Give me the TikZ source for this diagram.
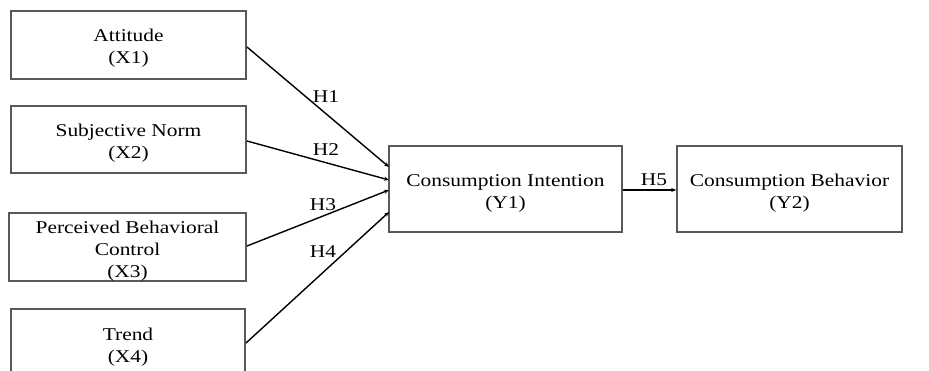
\documentclass[tikz,border=0pt]{standalone}
\usepackage{fontspec}
\setmainfont{Liberation Serif}[FakeStretch=1.19]
\usetikzlibrary{arrows.meta}
\begin{document}
\begin{tikzpicture}[x=1pt,y=-1pt,
  box/.style={draw=black!65,line width=1.5pt,inner sep=0pt},
  txt/.style={font=\fontsize{18}{22}\selectfont,inner sep=0pt,align=center},
  lab/.style={font=\fontsize{18}{22}\selectfont,inner sep=0pt},
  arr/.style={line width=1.4pt,-{Stealth[length=5pt,width=4pt]}}]
\useasboundingbox (0,0) rectangle (929,371);
\clip (0,0) rectangle (929,371);
\node[box,minimum width=235pt,minimum height=68pt] (x1) at (128.5,45) {};
\node[txt] (x1t) at (128.5,48) {Attitude\\(X1)};
\node[box,minimum width=235pt,minimum height=67pt] (x2) at (128.5,139.5) {};
\node[txt] (x2t) at (128.5,143) {Subjective Norm\\(X2)};
\node[box,minimum width=237pt,minimum height=68pt] (x3) at (127.5,247) {};
\node[txt] (x3t) at (127.5,251) {Perceived Behavioral\\Control\\(X3)};
\node[box,minimum width=234pt,minimum height=100pt] (x4) at (128,359) {};
\node[txt] (x4t) at (128,347) {Trend\\(X4)};
\node[box,minimum width=233pt,minimum height=86pt] (y1) at (505.5,189) {};
\node[txt] (y1t) at (505.5,193) {Consumption Intention\\(Y1)};
\node[box,minimum width=225pt,minimum height=86pt] (y2) at (789.5,189) {};
\node[txt] (y2t) at (789.5,193) {Consumption Behavior\\(Y2)};
\coordinate (s1) at (247,47);
\coordinate (s2) at (247,141);
\coordinate (s3) at (247,246);
\coordinate (s4) at (246,343);
\coordinate (e1) at (389,167);
\coordinate (e2) at (389,180);
\coordinate (e3) at (389,190);
\coordinate (e4) at (389,212);
\draw[arr] (s1) -- (e1);
\draw[arr] (s2) -- (e2);
\draw[arr] (s3) -- (e3);
\draw[arr] (s4) -- (e4);
\draw[arr] (y1.east |- 0,190) -- (y2.west |- 0,190);
\node[lab] (h1) at (326,97) {H1};
\node[lab] (h2) at (326,150) {H2};
\node[lab] (h3) at (323,205) {H3};
\node[lab] (h4) at (323,252) {H4};
\node[lab] (h5) at (654,180) {H5};
\end{tikzpicture}
\end{document}
